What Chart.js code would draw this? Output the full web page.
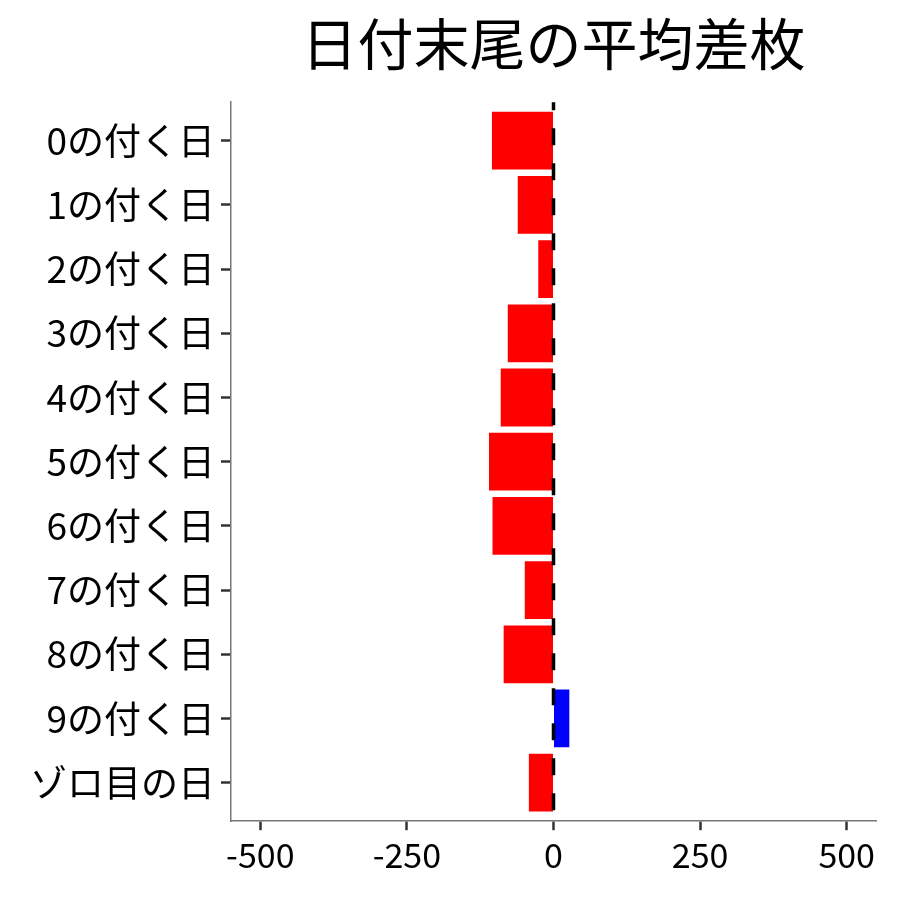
<!DOCTYPE html>
<html>
<head>
<meta charset="utf-8">
<script src="https://cdn.jsdelivr.net/npm/chart.js@4/dist/chart.umd.min.js"></script>
<style>
  html, body { margin: 0; padding: 0; background: #fff; }
  #wrap { width: 900px; height: 900px; }
</style>
</head>
<body>
<div id="wrap"><canvas id="chart" width="900" height="900"></canvas></div>
<script>
const categories = ["0の付く日", "1の付く日", "2の付く日", "3の付く日", "4の付く日", "5の付く日", "6の付く日", "7の付く日", "8の付く日", "9の付く日", "ゾロ目の日"];
const avgDiff = [-105, -61, -26, -78, -90, -110, -104, -49, -85, 27, -42];
const xTicks = [-500, -250, 0, 250, 500];
const titleText = "日付末尾の平均差枚";

const FONT = "'Noto Sans CJK JP', 'Noto Sans', sans-serif";

// dashed reference line at zero, drawn over the bars
const zeroLine = {
  id: "zeroLine",
  afterDatasetsDraw(chart) {
    const { ctx, chartArea, scales } = chart;
    const x = scales.x.getPixelForValue(0);
    ctx.save();
    ctx.strokeStyle = "#000";
    ctx.lineWidth = 3.5;
    ctx.setLineDash([17, 18]);
    ctx.lineDashOffset = 9;
    ctx.beginPath();
    ctx.moveTo(x, chartArea.top);
    ctx.lineTo(x, chartArea.bottom);
    ctx.stroke();
    ctx.restore();
  },
};

new Chart(document.getElementById("chart"), {
  type: "bar",
  data: {
    labels: categories,
    datasets: [{
      data: avgDiff,
      backgroundColor: avgDiff.map(v => (v < 0 ? "#ff0000" : "#0000ff")),
      barPercentage: 0.9,
      categoryPercentage: 1.0,
    }],
  },
  options: {
    indexAxis: "y",
    responsive: false,
    animation: false,
    layout: { padding: { top: 10, right: 24, bottom: 21, left: 24 } },
    plugins: {
      legend: { display: false },
      tooltip: { enabled: false },
      title: {
        display: true,
        text: titleText,
        fullSize: false,
        color: "#000",
        font: { family: FONT, size: 56, weight: "normal" },
        padding: { top: 0, bottom: 25 },
      },
    },
    scales: {
      x: {
        min: -550,
        max: 550,
        afterBuildTicks(scale) {
          scale.ticks = xTicks.map(v => ({ value: v }));
        },
        grid: {
          drawOnChartArea: false,
          drawTicks: true,
          tickLength: 9,
          tickColor: "#333",
          tickWidth: 2.5,
        },
        border: { display: true, color: "#777", width: 1.5 },
        ticks: {
          color: "#000",
          padding: 4,
          maxRotation: 0,
          font: { family: FONT, size: 34 },
        },
      },
      y: {
        // widen the category padding a bit (0.6 of a slot on each end instead of 0.5)
        afterBuildTicks(scale) {
          if (typeof scale._startValue === "number") {
            scale._startValue -= 0.1;
            scale._valueRange += 0.2;
          }
        },
        grid: {
          drawOnChartArea: false,
          drawTicks: true,
          tickLength: 10,
          tickColor: "#333",
          tickWidth: 2.5,
          offset: false,
        },
        border: { display: true, color: "#777", width: 1.5 },
        ticks: {
          color: "#000",
          padding: 6,
          font: { family: FONT, size: 37 },
        },
      },
    },
  },
  plugins: [zeroLine],
});
</script>
</body>
</html>
